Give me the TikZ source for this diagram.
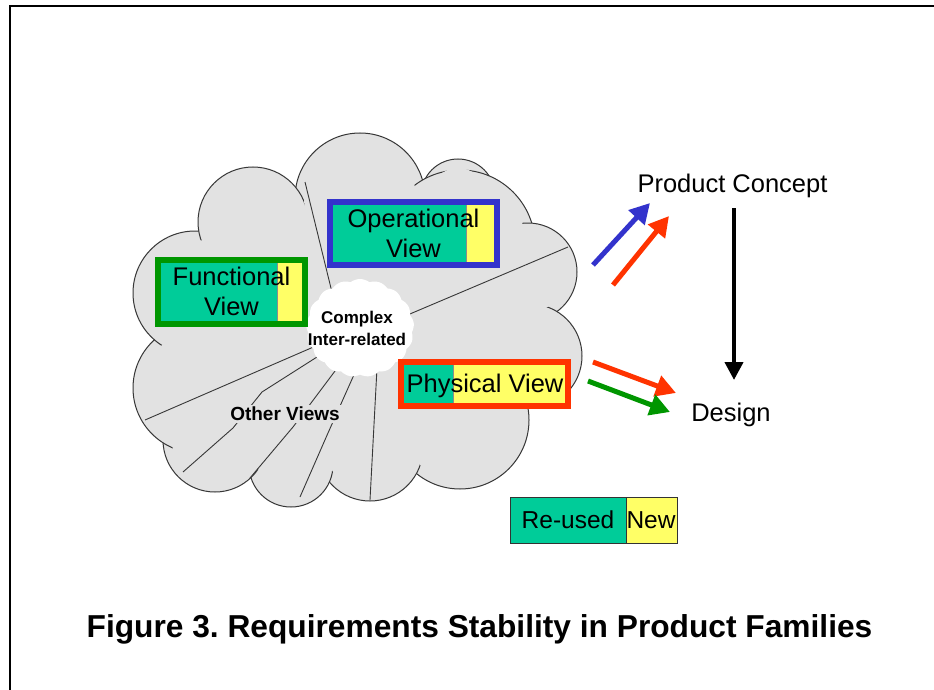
\documentclass[tikz,border=0pt]{standalone}
\usepackage{fontspec}
\setmainfont{Liberation Sans}
\usetikzlibrary{arrows.meta,shapes.symbols}
\definecolor{tealc}{RGB}{0,204,153}
\definecolor{yellowc}{RGB}{255,255,102}
\definecolor{bluec}{RGB}{51,51,204}
\definecolor{greenc}{RGB}{0,150,0}
\definecolor{redc}{RGB}{255,51,0}
\definecolor{cloudgray}{RGB}{226,226,226}
\definecolor{linegray}{RGB}{55,55,55}
\tikzset{
  bigtext/.style={font=\fontsize{25.5}{30}\selectfont, inner sep=0, align=center},
  fatarrow/.style={line width=5, -{Triangle[width=21pt,length=20pt]}},
  radial/.style={draw=linegray, line width=0.9},
  splitline/.style={draw=black!45, line width=0.7}
}
\begin{document}
\frenchspacing
\begin{tikzpicture}[x=1pt,y=-1pt]
\useasboundingbox (0,0) rectangle (934,690);
\fill[white] (0,0) rectangle (934,690);
% frame
\draw[line width=2] (10,690) -- (10,6) -- (934,6);

% cloud: pass 1 (outline)
\foreach \cx/\cy/\r in {360/198/65, 458/196/37, 460/245/75, 528/272/49, 530/356/52, 460/420/69, 370/448/53, 291/465/42, 215/440/52, 198/388/65, 195/293/62, 253/222/55}
  {\filldraw[fill=cloudgray, draw=linegray, line width=1] (\cx,\cy) circle[radius=\r];}
% pass 2 (cover interior arcs, leaving short stubs at the cusps)
\fill[cloudgray] (360,198) -- (458,196) -- (460,245) -- (528,272) -- (530,356) -- (460,420) -- (370,448) -- (291,465) -- (215,440) -- (198,388) -- (195,293) -- (253,222) -- cycle;
\foreach \cx/\cy/\r in {360/198/65, 458/196/37, 460/245/75, 528/272/49, 530/356/52, 460/420/69, 370/448/53, 291/465/42, 215/440/52, 198/388/65, 195/293/62, 253/222/55}
  {\fill[cloudgray] (\cx,\cy) circle[radius={\r-9}];}

% radial lines
\draw[radial] (305,182) -- (340,325);
\draw[radial] (568,247) -- (365,333);
\draw[radial] (145,420) -- (355,329);
\draw[radial] (183,472) -- (233,428) -- (262,392) -- (317,357) -- (340,340);
\draw[radial] (250,478) -- (293,427) -- (338,367) -- (350,350);
\draw[radial] (300,497) -- (328,433) -- (357,368) -- (362,350);
\draw[radial] (370,500) -- (377,368) -- (378,340);

% central white cloud
\node[cloud, cloud puffs=17, cloud puff arc=75, cloud ignores aspect, fill=white, minimum width=108, minimum height=98, inner sep=0] (core) at (360,328) {};
\node[font=\bfseries\fontsize{17}{22}\selectfont, align=center, inner sep=0] (cplx) at (357,328) {Complex\\Inter-related};
\node[font=\bfseries\fontsize{19}{22}\selectfont, fill=cloudgray, inner sep=2, anchor=base] (ov) at (285,420.5) {Other Views};

% Operational view box
\fill[tealc] (333,205) rectangle (466,262);
\fill[yellowc] (466,205) rectangle (494,262);
\draw[splitline] (466,205) -- (466,262);
\draw[bluec, line width=6] (330,202) rectangle (497,265);
\node[bigtext] (op) at (413.5,233) {Operational\\View};

% Functional view box
\fill[tealc] (161,263) rectangle (277,321);
\fill[yellowc] (277,263) rectangle (302,321);
\draw[splitline] (277,263) -- (277,321);
\draw[greenc, line width=6] (158,260) rectangle (305,324);
\node[bigtext] (fn) at (231.5,291) {Functional\\View};

% Physical view box
\fill[tealc] (404,365) rectangle (453,403);
\fill[yellowc] (453,365) rectangle (565,403);
\draw[splitline] (453,365) -- (453,403);
\draw[redc, line width=6] (401,362) rectangle (568,406);
\node[bigtext, anchor=base] (ph) at (485,392) {Physical View};

% right side
\node[bigtext, anchor=base] (pc) at (732.5,192) {Product Concept};
\node[bigtext, anchor=base] (ds) at (731,421) {Design};
\coordinate (ktop) at (734,208);
\coordinate (kbot) at (734,380);
\draw[line width=4, -{Triangle[width=18pt,length=18pt]}] (ktop) -- (kbot);

\coordinate (b1) at (593,265); \coordinate (b2) at (650,203);
\coordinate (r1) at (613,285); \coordinate (r2) at (669,216);
\coordinate (r3) at (593,362); \coordinate (r4) at (676,393);
\coordinate (g1) at (588,381); \coordinate (g2) at (670,412);
\draw[fatarrow, bluec] (b1) -- (b2);
\draw[fatarrow, redc] (r1) -- (r2);
\draw[fatarrow, redc] (r3) -- (r4);
\draw[fatarrow, greenc] (g1) -- (g2);

% legend
\fill[tealc] (510,497) rectangle (626,543);
\fill[yellowc] (626,497) rectangle (677,543);
\draw[black!80, line width=1] (510,497) rectangle (677,543);
\draw[black!80, line width=1] (626,497) -- (626,543);
\node[font=\fontsize{24.5}{28}\selectfont, anchor=base, inner sep=0] (ru) at (568,528) {Re-used};
\node[font=\fontsize{24.5}{28}\selectfont, anchor=base, inner sep=0] (nw) at (651,528) {New};

% caption
\node[font=\bfseries\fontsize{31.7}{36}\selectfont, anchor=base, inner sep=0] (cap) at (479.5,637) {Figure 3. Requirements Stability in Product Families};
\end{tikzpicture}
\end{document}
